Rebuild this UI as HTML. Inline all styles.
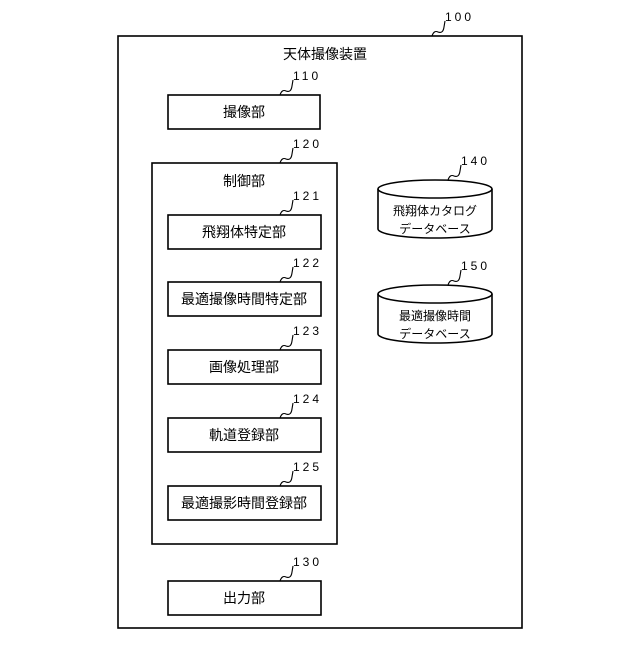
<!DOCTYPE html>
<html><head><meta charset="utf-8"><style>
body{margin:0;background:#fff}
svg text{font-family:"Liberation Sans","Noto Sans CJK JP",sans-serif;fill:#000}
</style></head><body>
<svg width="640" height="640" viewBox="0 0 640 640" xmlns="http://www.w3.org/2000/svg">
<g fill="none" stroke="#000" stroke-width="1.6">
<rect x="118" y="36" width="404" height="592"/>
<rect x="168" y="95" width="152" height="34"/>
<rect x="152" y="163" width="185" height="381"/>
<rect x="168" y="215" width="153" height="34"/>
<rect x="168" y="282" width="153" height="34"/>
<rect x="168" y="350" width="153" height="34"/>
<rect x="168" y="418" width="153" height="34"/>
<rect x="168" y="486" width="153" height="34"/>
<rect x="168" y="581" width="153" height="34"/>
<path d="M378 189 v40 a57 9 0 0 0 114 0 v-40"/><ellipse cx="435" cy="189" rx="57" ry="9"/>
<path d="M378 294 v40 a57 9 0 0 0 114 0 v-40"/><ellipse cx="435" cy="294" rx="57" ry="9"/>
<g stroke-width="1.1">
<path d="M432 36 q2-6 6-4 q5 2 6-5 l1-6"/>
<path d="M280 95 q2-6 6-4 q5 2 6-5 l1-6"/>
<path d="M280 163 q2-6 6-4 q5 2 6-5 l1-6"/>
<path d="M280 215 q2-6 6-4 q5 2 6-5 l1-6"/>
<path d="M280 282 q2-6 6-4 q5 2 6-5 l1-6"/>
<path d="M280 350 q2-6 6-4 q5 2 6-5 l1-6"/>
<path d="M280 418 q2-6 6-4 q5 2 6-5 l1-6"/>
<path d="M280 486 q2-6 6-4 q5 2 6-5 l1-6"/>
<path d="M280 581 q2-6 6-4 q5 2 6-5 l1-6"/>
<path d="M448 180 q2-6 6-4 q5 2 6-5 l1-6"/>
<path d="M448 285 q2-6 6-4 q5 2 6-5 l1-6"/>
</g></g>
<g font-size="12" letter-spacing="3">
<text x="445" y="21">100</text>
<text x="293" y="80">110</text>
<text x="293" y="148">120</text>
<text x="293" y="200">121</text>
<text x="293" y="267">122</text>
<text x="293" y="335">123</text>
<text x="293" y="403">124</text>
<text x="293" y="471">125</text>
<text x="293" y="566">130</text>
<text x="461" y="165">140</text>
<text x="461" y="270">150</text>
</g>
<g font-size="14" text-anchor="middle">
<text x="325" y="59">天体撮像装置</text>
<text x="244" y="117">撮像部</text>
<text x="244" y="186">制御部</text>
<text x="244" y="237">飛翔体特定部</text>
<text x="244" y="304">最適撮像時間特定部</text>
<text x="244" y="372">画像処理部</text>
<text x="244" y="440">軌道登録部</text>
<text x="244" y="508">最適撮影時間登録部</text>
<text x="244" y="603">出力部</text>
</g>
<g font-size="12" text-anchor="middle">
<text x="435" y="215">飛翔体カタログ</text>
<text x="435" y="233">データベース</text>
<text x="435" y="320">最適撮像時間</text>
<text x="435" y="338">データベース</text>
</g>
</svg>
</body></html>
